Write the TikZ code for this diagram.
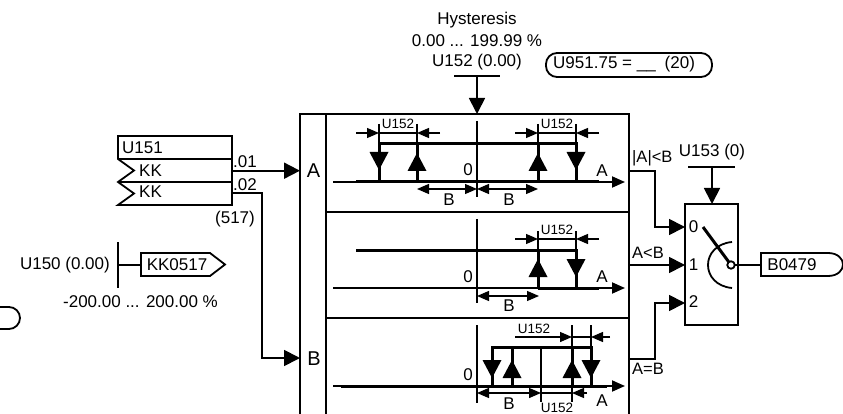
\documentclass[tikz,border=0pt]{standalone}
\usepackage{fontspec}
\setmainfont{Liberation Sans}
\usetikzlibrary{arrows.meta}
\newcommand{\TriDown}[2]{\fill[black] (#1-9.5,#2-18) -- (#1+9.5,#2-18) -- (#1,#2) -- cycle;}
\newcommand{\TriUp}[2]{\fill[black] (#1-9.5,#2+18) -- (#1+9.5,#2+18) -- (#1,#2) -- cycle;}
\tikzset{
  ln/.style={line width=1.8pt},
  thin ln/.style={line width=1.3pt},
  hv/.style={line width=3pt},
  bigtip/.style={-{Triangle[length=16pt,width=16pt]}},
  axistip/.style={-{Triangle[length=13pt,width=11pt]}},
  dimtip/.style={-{Triangle[length=12pt,width=10pt]}},
  dimtips/.style={{Triangle[length=12pt,width=10pt]}-{Triangle[length=12pt,width=10pt]}},
  txt/.style={inner sep=0pt,font=\fontsize{17}{19}\selectfont},
  ltxt/.style={inner sep=0pt,font=\fontsize{20}{22}\selectfont},
  stxt/.style={inner sep=0pt,font=\fontsize{13.5}{15}\selectfont},
  mtxt/.style={inner sep=0pt,font=\fontsize{16.5}{18}\selectfont},
  blk/.style={draw,ln,inner sep=0pt,outer sep=0pt},
}
\begin{document}
\begin{tikzpicture}[x=1pt,y=-1pt]
\useasboundingbox (0,0) rectangle (843,414);
\clip (0,0) rectangle (843,414);
\fill[white] (0,0) rectangle (843,414);

% main blocks
\node[blk,minimum width=26pt,minimum height=326pt] (inbox) at (313,277) {};
\node[blk,minimum width=303pt,minimum height=98pt] (pa) at (477.5,163) {};
\node[blk,minimum width=303pt,minimum height=106pt] (pb) at (477.5,265) {};
\node[blk,minimum width=303pt,minimum height=122pt] (pc) at (477.5,379) {};
\node[ltxt] (lA) at (313.5,171) {A};
\node[ltxt] (lB) at (314,359) {B};

% top parameter
\node[txt] (h1) at (477,20) {Hysteresis};
\node[txt] (h2) at (477,41) {0.00 ... 199.99 \%};
\node[txt] (h3) at (477,62) {U152 (0.00)};
\coordinate (hL) at (454,76); \coordinate (hR) at (500,76); \coordinate (hM) at (477,76);
\coordinate (hT) at (477,114);
\draw[ln] (hL) -- (hR);
\draw[ln,bigtip] (hM) -- (hT);
\node[draw,ln,rounded corners=11pt,minimum width=166pt,minimum height=24pt,inner sep=0pt] (pill) at (629,65) {};
\node[txt,anchor=west] (pilltxt) at (553,64.5) {U951.75 = \_\_\hspace{9pt}(20)};

% panel A
\coordinate (a0) at (333,182); \coordinate (a1) at (625,182);
\draw[ln,axistip] (a0) -- (a1);
\draw[hv] (356,182) -- (599,182);
\draw[thin ln] (477,121) -- (477,197);
\draw[hv] (379,182) -- (379,144) -- (576,144) -- (576,182);
\draw[hv] (417,182) -- (417,144);
\draw[hv] (538,182) -- (538,144);
\draw[thin ln] (379,124) -- (379,144) (417,124) -- (417,144) (538,124) -- (538,144) (576,124) -- (576,144);
\TriDown{379}{170} \TriUp{417}{153} \TriUp{538}{153} \TriDown{576}{170}
\draw[thin ln,dimtip] (356,133) -- (379,133);
\draw[thin ln,dimtip] (440,133) -- (417,133);
\draw[thin ln] (379,133) -- (417,133);
\draw[thin ln,dimtip] (515,133) -- (538,133);
\draw[thin ln,dimtip] (599,133) -- (576,133);
\draw[thin ln] (538,133) -- (576,133);
\draw[thin ln,dimtips] (417,189) -- (477,189);
\draw[thin ln,dimtips] (477,189) -- (538,189);
\node[stxt] (au1) at (398,124) {U152};
\node[stxt] (au2) at (557,124) {U152};
\node[txt] (az) at (468,170) {0};
\node[txt] (aA) at (602,171) {A};
\node[txt] (ab1) at (449,200) {B};
\node[txt] (ab2) at (509,200) {B};

% panel B
\coordinate (b0) at (333,288); \coordinate (b1) at (625,288);
\draw[ln,axistip] (b0) -- (b1);
\draw[hv] (538,288) -- (599,288);
\draw[thin ln] (477,219) -- (477,303);
\draw[hv] (356,250) -- (576,250) -- (576,288);
\draw[hv] (538,250) -- (538,288);
\draw[thin ln] (538,231) -- (538,250) (576,231) -- (576,250);
\TriUp{538}{259} \TriDown{576}{277}
\draw[thin ln,dimtip] (515,239) -- (538,239);
\draw[thin ln,dimtip] (599,239) -- (576,239);
\draw[thin ln] (538,239) -- (576,239);
\draw[thin ln,dimtips] (477,296) -- (539,296);
\node[stxt] (bu) at (557,230) {U152};
\node[txt] (bz) at (468,277) {0};
\node[txt] (bA) at (602,277) {A};
\node[txt] (bb) at (509,306) {B};

% panel C
\coordinate (c0) at (333,386); \coordinate (c1) at (625,386);
\draw[ln,axistip] (c0) -- (c1);
\draw[hv] (341,386) -- (607,386);
\draw[thin ln] (477,325) -- (477,403);
\draw[hv] (492,386) -- (492,347) -- (591,347) -- (591,386);
\draw[hv] (512,386) -- (512,347);
\draw[ln] (541,347) -- (541,402);
\draw[hv] (572,347) -- (572,386);
\draw[ln] (572,325) -- (572,402);
\draw[ln] (591,325) -- (591,347);
\TriDown{492}{378} \TriUp{512}{360} \TriUp{572}{360} \TriDown{591}{378}
\draw[thin ln,dimtip] (515,337) -- (572,337);
\draw[thin ln,dimtip] (610,337) -- (591,337);
\draw[thin ln] (572,337) -- (591,337);
\draw[thin ln,dimtips] (477,393) -- (541,393);
\draw[thin ln] (541,393) -- (572,393);
\draw[thin ln,dimtip] (587,393) -- (572,393);
\node[stxt] (cu1) at (534,329) {U152};
\node[stxt] (cu2) at (557,408) {U152};
\node[txt] (cz) at (468,375) {0};
\node[txt] (cA) at (602,401) {A};
\node[txt] (cb) at (509,404) {B};

% U151 block
\coordinate (k0) at (118,136); \coordinate (k1) at (232,136);
\coordinate (k2) at (232,205); \coordinate (k3) at (118,205);
\draw[ln] (k0) -- (k1) -- (k2) -- (k3) -- (134,193.5) -- (118,182) -- (134,170.5) -- (118,159) -- cycle;
\draw[ln] (118,159) -- (232,159) (118,182) -- (232,182);
\node[txt,anchor=west] (u151) at (122,147.5) {U151};
\node[txt,anchor=west] (kk1) at (139,170.5) {KK};
\node[txt,anchor=west] (kk2) at (139,191.5) {KK};
\node[txt,anchor=west] (k01) at (233,162) {.01};
\node[txt,anchor=west] (k02) at (233,185) {.02};
\node[txt] (k517) at (235,219) {(517)};
\coordinate (o01) at (232,170.7); \coordinate (iA) at (300,170.7);
\coordinate (o02) at (232,193); \coordinate (iB) at (300,358);
\draw[ln,bigtip] (o01) -- (iA);
\draw[ln,bigtip] (o02) -| (262,358) -- (iB);

% U150
\node[txt,anchor=east] (u150) at (110,265) {U150 (0.00)};
\node[txt] (u150r) at (140.5,302) {-200.00 ... 200.00 \%};
\coordinate (t0) at (118,242); \coordinate (t1) at (118,288); \coordinate (tm) at (118,265);
\draw[ln] (t0) -- (t1);
\coordinate (kkL) at (141,265);
\draw[ln] (141,253) -- (210,253) -- (225,264.5) -- (210,276) -- (141,276) -- cycle;
\node[txt] (kktxt) at (177,265) {KK0517};
\draw[ln] (tm) -- (kkL);

% partial connector at left edge
\draw[ln,rounded corners=11pt] (-20,307) -- (20,307) -- (20,329) -- (-20,329);

% switch
\node[blk,minimum width=53pt,minimum height=121pt] (sw) at (711.5,264.5) {};
\coordinate (ou1) at (629,171); \coordinate (ou2) at (629,265); \coordinate (ou3) at (629,359);
\coordinate (in0) at (685,227); \coordinate (in1) at (685,265); \coordinate (in2) at (685,303);
\draw[ln,bigtip] (ou1) -| (655,227) -- (in0);
\draw[ln,bigtip] (ou2) -- (in1);
\draw[ln,bigtip] (ou3) -| (655,303) -- (in2);
\node[mtxt,anchor=west] (s1) at (632,158) {|A|<B};
\node[mtxt,anchor=west] (s2) at (632,253) {A<B};
\node[mtxt,anchor=west] (s3) at (632,369) {A=B};
\node[txt] (u153) at (712,152) {U153 (0)};
\coordinate (uL) at (688,167); \coordinate (uR) at (735,167); \coordinate (uM) at (712,167);
\draw[ln] (uL) -- (uR);
\draw[ln,bigtip] (uM) -- (sw.north -| uM);
\node[txt] (n0) at (693.5,227) {0};
\node[txt] (n1) at (693.5,265) {1};
\node[txt] (n2) at (693.5,302) {2};
\node[circle,draw,ln,minimum size=7.5pt,inner sep=0pt,outer sep=0pt] (piv) at (731,265) {};
\draw[hv] (703,227) -- (piv);
\draw[ln] (732,242) .. controls (700,245) and (700,285) .. (732,288);
\draw[ln] (761,253) -- (828,253) .. controls (838,253) and (843,259) .. (843,264.5) .. controls (843,270) and (838,276) .. (828,276) -- (761,276) -- cycle;
\coordinate (outB) at (761,265);
\draw[ln] (piv) -- (outB);
\node[txt] (b479) at (792,264.5) {B0479};
\end{tikzpicture}
\end{document}
